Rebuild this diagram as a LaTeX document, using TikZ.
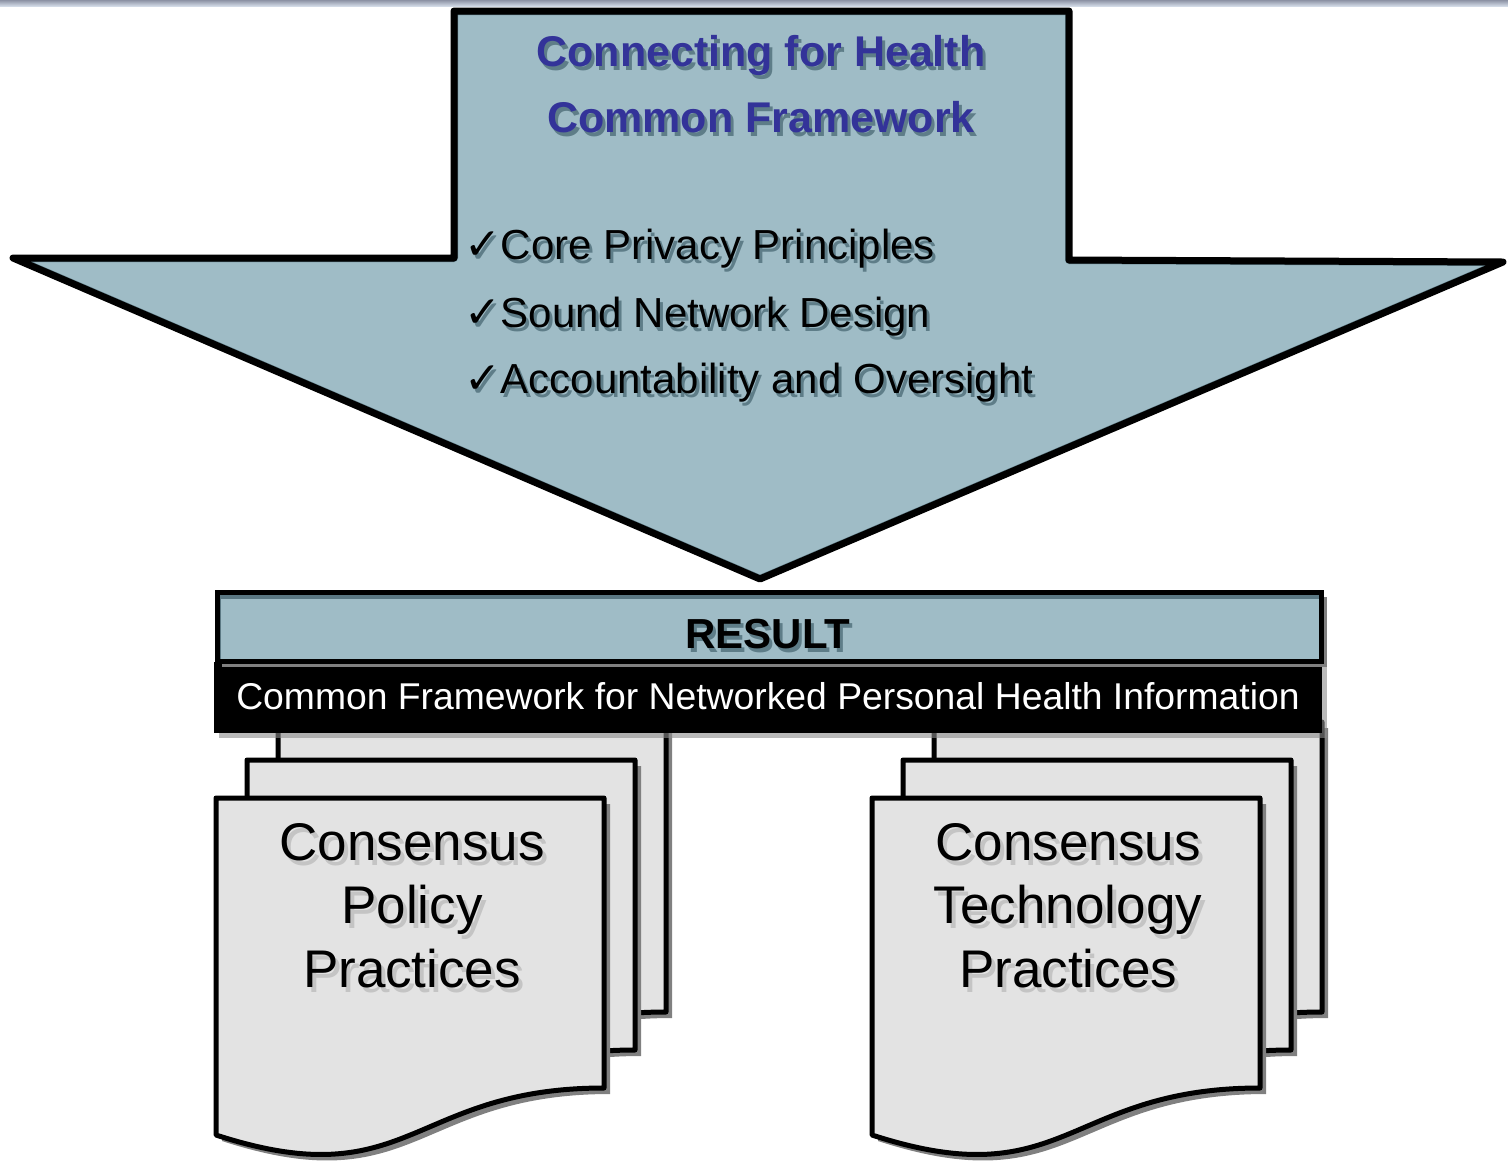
\documentclass[tikz,border=0pt]{standalone}
\usepackage{fontspec}
\setmainfont{Liberation Sans}
\newfontfamily\dejavu{DejaVu Sans}
\definecolor{arrowfill}{HTML}{9FBCC6}
\definecolor{innershade}{HTML}{5B7883}
\definecolor{txtshadow}{HTML}{5E7D88}
\definecolor{titleblue}{HTML}{333399}
\definecolor{pagefill}{HTML}{E3E3E3}
\definecolor{pageshadow}{HTML}{808080}
\definecolor{docshadow}{HTML}{C4C4C4}
\definecolor{bandtop}{HTML}{8C92A4}
\definecolor{bandbot}{HTML}{D2DAE6}
\tikzset{
  txt/.style={inner sep=0pt, outer sep=0pt},
  titletext/.style={txt, anchor=base, font=\fontsize{43}{50}\selectfont\bfseries},
  bullettext/.style={txt, anchor=base west, font=\fontsize{42}{50}\selectfont},
  resulttext/.style={txt, anchor=base, font=\fontsize{42}{50}\selectfont\bfseries},
  bartext/.style={txt, anchor=base, text=white, font=\fontsize{37.3}{44}\selectfont},
  doctext/.style={txt, anchor=base, font=\fontsize{53}{63}\selectfont},
  outline/.style={draw=black, line width=7pt, line join=round},
  docpage/.pic={
    \fill[pageshadow] (6,6) -- (394,6) -- (394,296) .. controls (200,296) and (200,406) .. (6,343) -- cycle;
    \filldraw[fill=pagefill, draw=black, line width=5pt, line join=round]
      (0,0) -- (388,0) -- (388,290) .. controls (194,290) and (194,400) .. (0,337) -- cycle;
  }
}
\newcommand{\chk}{{\dejavu\fontsize{44}{44}\selectfont ✓}}
\begin{document}
\begin{tikzpicture}[x=1pt,y=-1pt]
\useasboundingbox (0,0) rectangle (1508,1160);
% top band
\shade[top color=bandtop, bottom color=bandbot] (0,0) rectangle (1508,6);

% arrow coordinates
\coordinate (atl) at (454,11);
\coordinate (atr) at (1069,11);
\coordinate (ars) at (1069,260);
\coordinate (arw) at (1503,262);
\coordinate (atip) at (760,579);
\coordinate (alw) at (13,258);
\coordinate (als) at (454,258);

% arrow shadow
\fill[pageshadow, shift={(4,4)}] (atl) -- (atr) -- (ars) -- (arw) -- (atip) -- (alw) -- (als) -- cycle;
% arrow fill
\fill[arrowfill] (atl) -- (atr) -- (ars) -- (arw) -- (atip) -- (alw) -- (als) -- cycle;
\begin{scope}
  \clip (atl) -- (atr) -- (ars) -- (arw) -- (atip) -- (alw) -- (als) -- cycle;
  \draw[innershade, line width=8pt, line join=round, shift={(1,4)}]
    (atl) -- (atr) -- (ars) -- (arw) -- (atip) -- (alw) -- (als) -- cycle;
\end{scope}
\draw[outline] (atl) -- (atr) -- (ars) -- (arw) -- (atip) -- (alw) -- (als) -- cycle;

% title
\node[titletext, text=txtshadow] (t1s) at (764,70) {Connecting for Health};
\node[titletext, text=titleblue] (t1) at (761,66) {Connecting for Health};
\node[titletext, text=txtshadow] (t2s) at (764,136) {Common Framework};
\node[titletext, text=titleblue] (t2) at (761,132) {Common Framework};

% bullets
\node[bullettext, text=txtshadow] (b1s) at (467,263) {\chk Core Privacy Principles};
\node[bullettext] (b1) at (464,259) {\chk Core Privacy Principles};
\node[bullettext, text=txtshadow] (b2s) at (467,331) {\chk Sound Network Design};
\node[bullettext] (b2) at (464,327) {\chk Sound Network Design};
\node[bullettext, text=txtshadow] (b3s) at (467,397) {\chk Accountability and Oversight};
\node[bullettext] (b3) at (464,393) {\chk Accountability and Oversight};

% document stacks
\foreach \dx/\nm in {0/L,656/R}{
  \pic (back\nm) at (278+\dx,722) {docpage};
  \pic (mid\nm) at (247+\dx,760) {docpage};
  \pic (front\nm) at (216+\dx,798) {docpage};
}

% black bar
\fill[black!45, opacity=0.6] (219,667) rectangle (1327,738);
\fill[black] (214,662) rectangle (1322,733);
\node[bartext] (bar) at (768,709) {Common Framework for Networked Personal Health Information};

% result bar
\fill[pageshadow] (222,597) rectangle (1327,667);
\fill[arrowfill] (217,592) rectangle (1321,661);
\begin{scope}
  \clip (217,592) rectangle (1321,661);
  \draw[innershade, line width=6pt, shift={(1,4)}] (217,592) rectangle (1321,661);
\end{scope}
\draw[black, line width=5pt] (217,592) rectangle (1321,661);
\node[resulttext, text=txtshadow] (rs) at (771,652) {RESULT};
\node[resulttext] (r) at (768,648) {RESULT};

% document texts
\node[doctext, text=docshadow] (p1s) at (416,865) {Consensus};
\node[doctext] (p1) at (412,860) {Consensus};
\node[doctext, text=docshadow] (p2s) at (416,928) {Policy};
\node[doctext] (p2) at (412,923) {Policy};
\node[doctext, text=docshadow] (p3s) at (416,992) {Practices};
\node[doctext] (p3) at (412,987) {Practices};

\node[doctext, text=docshadow] (q1s) at (1072,865) {Consensus};
\node[doctext] (q1) at (1068,860) {Consensus};
\node[doctext, text=docshadow] (q2s) at (1072,928) {Technology};
\node[doctext] (q2) at (1068,923) {Technology};
\node[doctext, text=docshadow] (q3s) at (1072,992) {Practices};
\node[doctext] (q3) at (1068,987) {Practices};
\end{tikzpicture}
\end{document}
